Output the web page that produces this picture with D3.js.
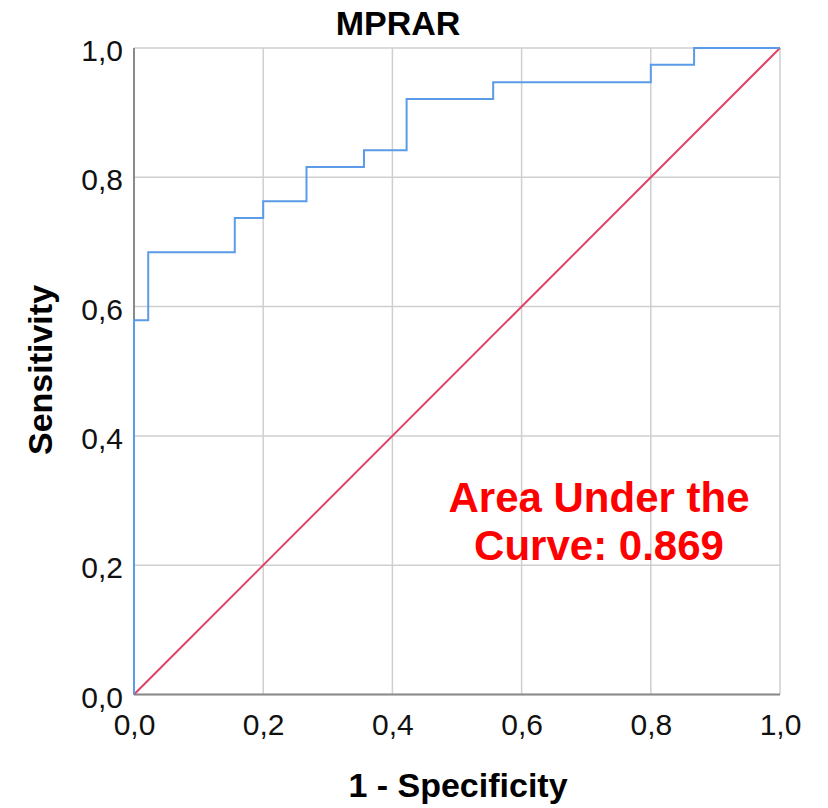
<!DOCTYPE html>
<html>
<head>
<meta charset="utf-8">
<script src="https://cdn.jsdelivr.net/npm/d3@7"></script>
<style>
  html, body { margin: 0; padding: 0; background: #fff; }
  svg { display: block; font-family: "Liberation Sans", Arial, sans-serif; }
</style>
</head>
<body>
<svg id="chart" width="828" height="808"></svg>
<script>
// ---- data ----
const chartTitle = "MPRAR";
const xAxisTitle = "1 - Specificity";
const yAxisTitle = "Sensitivity";
const aucLines = ["Area Under the", "Curve: 0.869"];
const tickValues = [0, 0.2, 0.4, 0.6, 0.8, 1.0];
const tickLabels = ["0,0", "0,2", "0,4", "0,6", "0,8", "1,0"];
// ROC step vertices (1 - specificity, sensitivity)
const rocFPR = [0, 0, 0.022, 0.156, 0.200, 0.267, 0.356, 0.422, 0.556, 0.800, 0.867, 1.000];
const rocTPR = [0, 0.579, 0.684, 0.737, 0.763, 0.816, 0.842, 0.921, 0.947, 0.974, 1.000, 1.000];
const refFPR = [0, 1];
const refTPR = [0, 1];

// ---- layout ----
const svg = d3.select("#chart");
const mLeft = 134, mTop = 48, plotW = 646, plotH = 646.5;
const x = d3.scaleLinear().domain([0, 1]).range([mLeft, mLeft + plotW]);
const y = d3.scaleLinear().domain([0, 1]).range([mTop + plotH, mTop]);

const gridColor = "#cfcfcf";
const axisColor = "#8a8a8a";

// gridlines
const g = svg.append("g");
g.selectAll(".vg").data(tickValues).join("line")
  .attr("x1", d => x(d)).attr("x2", d => x(d))
  .attr("y1", y(0)).attr("y2", y(1))
  .attr("stroke", gridColor).attr("stroke-width", 1.5);
g.selectAll(".hg").data(tickValues).join("line")
  .attr("y1", d => y(d)).attr("y2", d => y(d))
  .attr("x1", x(0)).attr("x2", x(1))
  .attr("stroke", gridColor).attr("stroke-width", 1.5);

// axes (labels only, no tick marks)
const xAxis = d3.axisBottom(x).tickValues(tickValues)
  .tickFormat((d, i) => tickLabels[i]).tickSize(0).tickPadding(19);
const yAxis = d3.axisLeft(y).tickValues(tickValues)
  .tickFormat((d, i) => tickLabels[i]).tickSize(0).tickPadding(11);

const gx = svg.append("g").attr("transform", `translate(0,${y(0)})`).call(xAxis);
const gy = svg.append("g").attr("transform", `translate(${x(0)},0)`).call(yAxis);
[gx, gy].forEach(a => {
  a.select(".domain").remove();
  a.selectAll("text").attr("font-size", 30).attr("fill", "#111")
    .attr("font-family", "'Liberation Sans', Arial, sans-serif");
});
gx.selectAll("text").attr("dy", "0.71em");
gy.selectAll("text").attr("dy", "0.42em");

// axis lines
svg.append("line").attr("x1", x(0)).attr("x2", x(0)).attr("y1", y(0)).attr("y2", y(1))
  .attr("stroke", axisColor).attr("stroke-width", 2);
svg.append("line").attr("x1", x(0)).attr("x2", x(1)).attr("y1", y(0)).attr("y2", y(0))
  .attr("stroke", axisColor).attr("stroke-width", 2);

// reference diagonal
const refLine = d3.line().x(d => x(d[0])).y(d => y(d[1]));
svg.append("path")
  .attr("d", refLine(refFPR.map((v, i) => [v, refTPR[i]])))
  .attr("fill", "none").attr("stroke", "#e0436a").attr("stroke-width", 2);

// ROC curve
const rocLine = d3.line().x(d => x(d[0])).y(d => y(d[1])).curve(d3.curveStepAfter);
svg.append("path")
  .attr("d", rocLine(rocFPR.map((v, i) => [v, rocTPR[i]])))
  .attr("fill", "none").attr("stroke", "#5b9be8").attr("stroke-width", 2);

// title
svg.append("text").attr("x", 398).attr("y", 35).attr("text-anchor", "middle")
  .attr("font-size", 34).attr("font-weight", "bold").attr("fill", "#000")
  .text(chartTitle);

// axis titles
svg.append("text").attr("x", 458).attr("y", 797).attr("text-anchor", "middle")
  .attr("font-size", 34).attr("font-weight", "bold").attr("fill", "#000")
  .text(xAxisTitle);
svg.append("text").attr("transform", "translate(52,370) rotate(-90)")
  .attr("text-anchor", "middle")
  .attr("font-size", 34).attr("font-weight", "bold").attr("fill", "#000")
  .text(yAxisTitle);

// AUC annotation
svg.append("g").selectAll("text").data(aucLines).join("text")
  .attr("x", 599).attr("y", (d, i) => 512 + i * 48)
  .attr("text-anchor", "middle").attr("font-size", 42).attr("font-weight", "bold")
  .attr("fill", "#ff0000").text(d => d);
</script>
</body>
</html>
